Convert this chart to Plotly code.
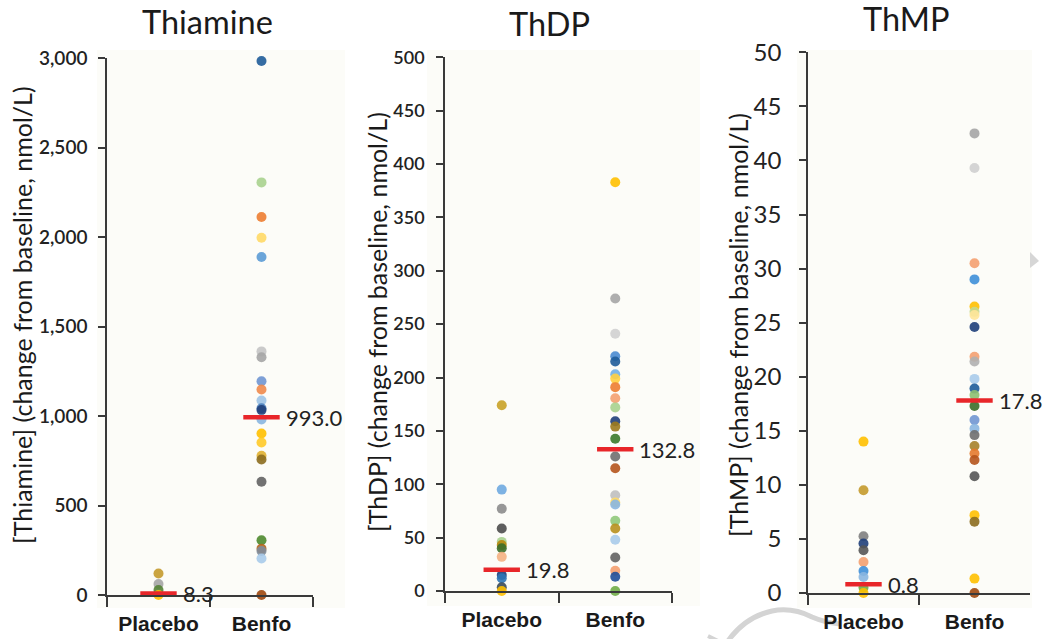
import plotly.graph_objects as go

# ---- data -------------------------------------------------------------
categories = ["Placebo", "Benfo"]
panel_titles = ["Thiamine", "ThDP", "ThMP"]
y_titles = [
    "[Thiamine] (change from baseline, nmol/L)",
    "[ThDP] (change from baseline, nmol/L)",
    "[ThMP] (change from baseline, nmol/L)",
]

thiamine_placebo = [120, 61, 28, 0]
thiamine_benfo = [2983, 2305, 2112, 1996, 1888, 1361, 1328, 1194, 1148, 1087,
                  1043, 1033, 981, 902, 852, 778, 757, 633, 306, 259, 246, 204, 0]
thiamine_means = [8.3, 993.0]

thdp_placebo = [174, 95, 77, 58.5, 46, 43, 40, 32, 15, 12, 3.4, 0]
thdp_benfo = [383, 274, 241, 220, 215, 203, 199, 191, 180.5, 172, 159, 154, 142.6,
              126, 115, 89.7, 83, 81, 65.7, 58.5, 48, 31.4, 19, 13.4, 0]
thdp_means = [19.8, 132.8]

thmp_placebo = [14.0, 9.5, 5.25, 4.57, 3.95, 2.87, 2.04, 1.48, 0.5, 0]
thmp_benfo = [42.5, 39.3, 30.5, 29.0, 26.5, 26.0, 25.7, 24.6, 21.85, 21.4, 19.8, 18.9,
              18.3, 17.3, 16.0, 15.2, 14.6, 13.6, 12.9, 12.3, 10.8, 7.2, 6.6, 1.33, 0]
thmp_means = [0.8, 17.8]

# ---- per-subject dot colours -------------------------------------------
thiamine_placebo_colors = ["#C49A2C", "#A5A5A5", "#548235", "#FFC000"]
thiamine_benfo_colors = ["#1F5C99", "#A9D18E", "#ED7D31", "#FFD966", "#5B9BD5",
                         "#C4C4C4", "#A5A5A5", "#7096D1", "#F08A4B", "#9DC3E6",
                         "#4A7EBB", "#1F3F7A", "#8AB6E0", "#FFC000", "#FFCA28",
                         "#E0B030", "#8C6D1F", "#636363", "#4E8A2E", "#B5651D",
                         "#7F8C9A", "#A8CBEA", "#9E480E"]
thdp_placebo_colors = ["#C9A227", "#6FAAE0", "#8C8C8C", "#4D4D4D", "#A9D18E", "#B8860B",
                       "#3B6E2A", "#F4B183", "#1F3F7A", "#2E75B6", "#3A4A5A", "#FFC000"]
thdp_benfo_colors = ["#FFC000", "#A5A5A5", "#D0D0D0", "#4A8BD0", "#1F5C99", "#6FAFE6",
                     "#FFD040", "#ED7D31", "#F4A070", "#A9D18E", "#1F3F7A", "#9C7A1E",
                     "#3B7A2A", "#6F6F6F", "#B5541C", "#BFBFBF", "#FFD966", "#8AB6E0",
                     "#90C97A", "#B8901E", "#A8CBEA", "#636363", "#F4A070", "#1F4E99",
                     "#70AD47"]
thmp_placebo_colors = ["#FFC000", "#C49A2C", "#7F7F7F", "#1F3F7A", "#555555", "#F4A070",
                       "#3E8FD8", "#8AB6E0", "#70AD47", "#FFC000"]
thmp_benfo_colors = ["#A5A5A5", "#CFCFCF", "#F4A070", "#3E8FD8", "#FFC000", "#C5D88E",
                     "#FFE699", "#1F3F7A", "#F4A070", "#B0B0B0", "#A8CBEA", "#1F5C99",
                     "#8CC070", "#3B6E2A", "#7096D1", "#8AB6E0", "#6F6F6F", "#A5822A",
                     "#E47A2E", "#B5541C", "#555555", "#FFC000", "#8C6D1F", "#FFC000",
                     "#9E480E"]

panels = [
    (thiamine_placebo, thiamine_benfo, thiamine_means,
     thiamine_placebo_colors, thiamine_benfo_colors),
    (thdp_placebo, thdp_benfo, thdp_means, thdp_placebo_colors, thdp_benfo_colors),
    (thmp_placebo, thmp_benfo, thmp_means, thmp_placebo_colors, thmp_benfo_colors),
]

# ---- layout geometry (pixels in a 1050 x 639 page) ---------------------
W, H = 1050, 639
x_px = [(107, 313), (445, 672), (808, 1030)]
y_px = [(595, 58), (591, 57.3), (593, 52.3)]     # (value 0, top value)
y_ranges = [(0, 3000), (0, 500), (0, 50)]
y_dticks = [500, 50, 5]
tick_fonts = [dict(family="Lato", size=19, color="#222222", weight=600),
              dict(family="Lato", size=18, color="#222222", weight=600),
              dict(family="Lato", size=24, color="#222222")]
tick_standoff = [7, 8, 13]
title_pos = [(207, 21), (549, 24), (906, 19)]
ytitle_pos = [(22, 315), (377, 322), (738, 325)]
label_shift = 22
bg_boxes = [(97, 50, 345, 608), (427, 50, 700, 606), (797, 50, 1032, 608)]

AXIS = "#3a3a3a"
fig = go.Figure()
annotations = []
shapes = []

for i, (plc, ben, means, plc_c, ben_c) in enumerate(panels):
    n = "" if i == 0 else str(i + 1)
    xa, ya = "x" + n, "y" + n

    fig.add_trace(go.Scatter(
        x=[categories[0]] * len(plc), y=plc, mode="markers", xaxis=xa, yaxis=ya,
        marker=dict(size=10, color=plc_c, opacity=0.9, line=dict(width=0)),
        cliponaxis=False, showlegend=False, hoverinfo="y"))
    fig.add_trace(go.Scatter(
        x=[categories[1]] * len(ben), y=ben, mode="markers", xaxis=xa, yaxis=ya,
        marker=dict(size=10, color=ben_c, opacity=0.9, line=dict(width=0)),
        cliponaxis=False, showlegend=False, hoverinfo="y"))
    # group means as short red bars
    fig.add_trace(go.Scatter(
        x=categories, y=means, mode="markers", xaxis=xa, yaxis=ya,
        marker=dict(symbol="line-ew", size=26,
                    line=dict(width=4.5, color="#E8262A")),
        cliponaxis=False, showlegend=False, hoverinfo="y"))

    for cat, m in zip(categories, means):
        annotations.append(dict(
            x=cat, y=m, xref=xa, yref=ya, text=f"{m:.1f}", showarrow=False,
            xanchor="left", yanchor="middle", xshift=label_shift,
            font=dict(family="Lato", size=22, color="#222222")))

    x0, x1 = x_px[i]
    yb, yt = y_px[i]
    fig.layout["xaxis" + n] = dict(
        domain=[x0 / W, x1 / W], anchor=ya, type="category",
        categoryorder="array", categoryarray=categories, range=[-0.5, 1.5],
        tickson="boundaries", ticks="outside", ticklen=10, tickwidth=1.5,
        tickcolor=AXIS, showline=True, linecolor=AXIS, linewidth=1.5,
        showgrid=False, zeroline=False, fixedrange=True, automargin=False,
        ticklabelstandoff=9,
        tickfont=dict(family="Liberation Sans", size=21, color="#1a1a1a",
                      weight="bold"))
    fig.layout["yaxis" + n] = dict(
        domain=[1 - yb / H, 1 - yt / H], anchor=xa, range=list(y_ranges[i]),
        dtick=y_dticks[i], tick0=0, tickformat=",d", ticks="outside", ticklen=7,
        tickwidth=1.5, tickcolor=AXIS, showline=True, linecolor=AXIS,
        linewidth=1.5, showgrid=False, zeroline=False, fixedrange=True,
        automargin=False, tickfont=tick_fonts[i],
        ticklabelstandoff=tick_standoff[i])

    tx, ty = title_pos[i]
    annotations.append(dict(
        x=tx / W, y=1 - ty / H, xref="paper", yref="paper", text=panel_titles[i],
        showarrow=False, xanchor="center", yanchor="middle",
        font=dict(family="Lato", size=32.5, color="#1a1a1a")))
    yx, yy = ytitle_pos[i]
    annotations.append(dict(
        x=yx / W, y=1 - yy / H, xref="paper", yref="paper", text=y_titles[i],
        showarrow=False, xanchor="center", yanchor="middle", textangle=-90,
        font=dict(family="Lato", size=25, color="#1a1a1a")))

    bx0, by0, bx1, by1 = bg_boxes[i]
    shapes.append(dict(type="rect", xref="paper", yref="paper", layer="below",
                       x0=bx0 / W, x1=bx1 / W, y0=1 - by1 / H, y1=1 - by0 / H,
                       fillcolor="#FCFCF8", line=dict(width=0)))


def px_path(segments, close=False):
    """SVG path in paper coordinates; each segment is (command, [(x, y), ...])
    with points given in page pixels."""
    parts = []
    for cmd, pts in segments:
        coords = " ".join(f"{px / W:.5f},{1 - py / H:.5f}" for px, py in pts)
        parts.append(f"{cmd} {coords}")
    return " ".join(parts) + (" Z" if close else "")


# faint watermark strokes
shapes.append(dict(type="path", xref="paper", yref="paper", layer="below",
                   path=px_path([("M", [(1030, 252)]), ("L", [(1039, 261)]),
                                 ("L", [(1030, 268)])], close=True),
                   fillcolor="#D6D6D6", line=dict(width=0)))
shapes.append(dict(type="path", xref="paper", yref="paper", layer="below",
                   path=px_path([("M", [(728, 641)]),
                                 ("Q", [(745, 617), (772, 611)]),
                                 ("Q", [(792, 607), (812, 617)]),
                                 ("Q", [(826, 623), (840, 624)])]),
                   line=dict(color="#D4D4D4", width=5)))
shapes.append(dict(type="path", xref="paper", yref="paper", layer="below",
                   path=px_path([("M", [(708, 636)]), ("L", [(718, 641)])]),
                   line=dict(color="#D4D4D4", width=4)))

fig.update_layout(
    width=W, height=H, margin=dict(l=0, r=0, t=0, b=0, autoexpand=False),
    paper_bgcolor="white", plot_bgcolor="rgba(0,0,0,0)",
    annotations=annotations, shapes=shapes, showlegend=False,
)

fig.write_html("out.html")
